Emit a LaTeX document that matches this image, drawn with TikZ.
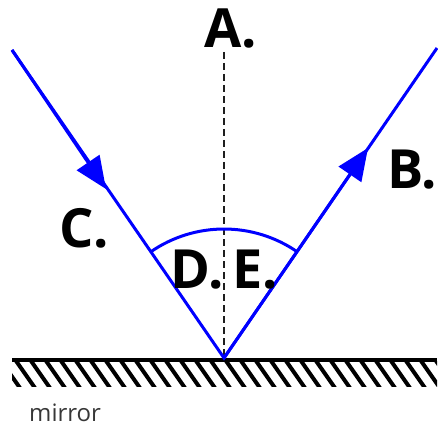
\documentclass[tikz,border=0pt]{standalone}
\usepackage{fontspec}
\setmainfont{Open Sans}
\usetikzlibrary{arrows.meta}
\definecolor{rayblue}{RGB}{0,0,255}
\definecolor{normgray}{RGB}{30,30,30}
\definecolor{txtgray}{RGB}{55,55,55}
\tikzset{
  ray/.style={draw=rayblue, line width=3pt},
  rayarrow/.style={ray, -{Triangle[length=32pt,width=27pt]}},
  normal/.style={draw=normgray, line width=2.6pt, dash pattern=on 7pt off 4pt},
  lbl/.style={font=\fontsize{54}{54}\selectfont\bfseries, inner sep=0pt},
  mirrorline/.style={draw=black, line width=4.5pt},
  hatch/.style={draw=black, line width=4pt},
}
\begin{document}
\begin{tikzpicture}[x=1pt,y=-1pt]
\useasboundingbox (0,0) rectangle (438,430);
\coordinate (V) at (224,358);
\coordinate (S) at (12,50);
\coordinate (E) at (437,48);
\coordinate (T1) at (106,189);
\coordinate (T2) at (368,148);
\coordinate (N) at (224,52);
\coordinate (ML) at (12,360);
\coordinate (MR) at (437,360);
% hatching
\begin{scope}
\clip (12,361) rectangle (437,386);
\foreach \i in {-2,...,30} {
  \draw[hatch] (14+\i*15,358) -- (14+\i*15+21,388);
}
\end{scope}
\draw[mirrorline] (ML) -- (MR);
% normal
\draw[normal] (N) -- (V);
% arc
\draw[ray] (V) ++(-124.5:129) arc[start angle=-124.5, end angle=-55.5, radius=129];
% rays
\draw[ray] (S) -- (V) -- (E);
\draw[rayarrow] (S) -- (T1);
\draw[rayarrow] (V) -- (T2);
% labels
\node[lbl] (A) at (231,29) {A.};
\node[lbl] (B) at (412,170) {B.};
\node[lbl] (C) at (84,228) {C.};
\node[lbl] (D) at (197,270) {D.};
\node[lbl] (Ee) at (255,270) {E.};
\node[inner sep=0pt, text=txtgray, font=\fontsize{24}{24}\selectfont, anchor=base west] (M) at (29,421) {mirror};
\end{tikzpicture}
\end{document}
